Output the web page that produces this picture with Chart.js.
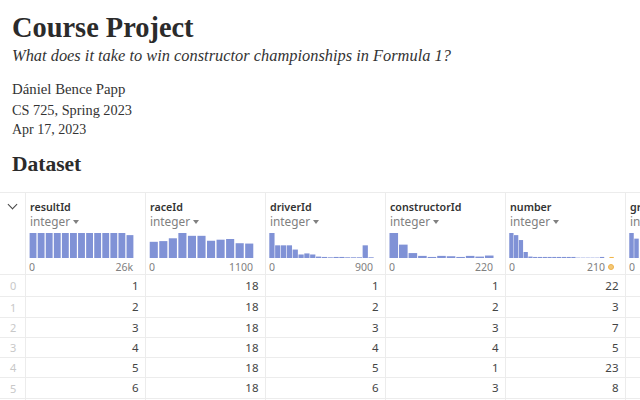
<!DOCTYPE html>
<html>
<head>
<meta charset="utf-8">
<title>Course Project</title>
<script src="https://cdn.jsdelivr.net/npm/chart.js@4"></script>
<style>
html, body { margin: 0; padding: 0; background: #fff; }
body { position: relative; width: 640px; height: 400px; overflow: hidden; color: #333; }
.t { position: absolute; white-space: nowrap; line-height: 1; }
.serif { font-family: "Liberation Serif", serif; }
.sans { font-family: "Noto Sans", sans-serif; }
.line { position: absolute; background: #ececec; }
.hist { position: absolute; top: 233px; height: 25px; }
.hist canvas { display: block; }
</style>
</head>
<body>
<script>
const columnNames = ["resultId", "raceId", "driverId", "constructorId", "number", "grid"]
const columnType = "integer"
const tickMax = ["26k", "1100", "900", "220", "210"]
const rowIndex = [0, 1, 2, 3, 4, 5]

const resultIdValues = [1, 2, 3, 4, 5, 6]
const raceIdValues = [18, 18, 18, 18, 18, 18]
const driverIdValues = [1, 2, 3, 4, 5, 6]
const constructorIdValues = [1, 2, 3, 4, 1, 3]
const numberValues = [22, 3, 7, 5, 23, 8]

// bar heights, relative to the tallest bar (71)
const resultIdBins = [71, 71, 71, 71, 71, 71, 71, 71, 71, 71, 71, 71, 65]
const raceIdBins = [46, 48, 56, 71, 63, 63, 49, 52, 54, 42, 41]
const driverIdBins = [71, 36, 36, 36, 24, 10, 13, 10, 4, 3, 2, 3, 3, 2, 2, 2, 36, 2]
const constructorIdBins = [71, 38, 14, 6, 3, 6, 5, 3, 6, 4, 7]
const numberBins = [71, 65, 51, 17, 4, 3, 3, 3, 3, 3, 3, 3, 3, 3, 1, 1, 1, 1, 1, 3, 0, 3]
const gridBins = [71, 55]

const allBins = [resultIdBins, raceIdBins, driverIdBins, constructorIdBins, numberBins, gridBins]
const allValues = [resultIdValues, raceIdValues, driverIdValues, constructorIdValues, numberValues]

const colX = [25, 145, 265, 385, 505, 625]
const rowY = [274, 296, 317, 337, 357, 377, 398]

function addText(text, x, y, size, cls, extra) {
    let d = document.createElement("div")
    d.className = "t " + cls
    d.textContent = text
    d.style.left = x + "px"
    d.style.top = (y - size / 2) + "px"
    d.style.fontSize = size + "px"
    if (extra) Object.assign(d.style, extra)
    document.body.appendChild(d)
    return d
}

function addRight(text, right, y, size, color) {
    let d = addText(text, 0, y, size, "sans", { color: color })
    d.style.left = "auto"
    d.style.right = (640 - right) + "px"
}

function addLine(x, y, w, h) {
    let d = document.createElement("div")
    d.className = "line"
    d.style.cssText = `left:${x}px;top:${y}px;width:${w}px;height:${h}px`
    document.body.appendChild(d)
}

// heading
addText("Course Project", 12, 28, 28.4, "serif", { fontWeight: "bold", color: "#2b2b2b" })
addText("What does it take to win constructor championships in Formula 1?", 12, 56, 16.4, "serif", { fontStyle: "italic" })
addText("Dániel Bence Papp", 12, 89, 14.8, "serif")
addText("CS 725, Spring 2023", 12, 110, 14.3, "serif")
addText("Apr 17, 2023", 12, 130, 14, "serif")
addText("Dataset", 12, 165, 21.5, "serif", { fontWeight: "bold", color: "#2b2b2b" })

// grid lines of the table
addLine(0, 192, 640, 1)
rowY.forEach(y => addLine(0, y, 640, 1))
colX.forEach(x => addLine(x, 192, 1, 208))

// collapse chevron
let chev = document.createElement("div")
chev.style.cssText = "position:absolute;left:9px;top:201px;width:6px;height:6px;border-right:1.5px solid #444;border-bottom:1.5px solid #444;transform:rotate(45deg)"
document.body.appendChild(chev)

// column headers and histograms
columnNames.forEach((name, c) => {
    let x = colX[c] + 5
    addText(name, x, 207, 10.7, "sans", { fontWeight: "600", color: "#333" })
    addText(columnType, x, 222, 11.8, "sans", { color: "#808080" })
    let caret = document.createElement("div")
    caret.style.cssText = `position:absolute;left:${x + 43}px;top:220px;border-left:3px solid transparent;border-right:3px solid transparent;border-top:4px solid #808080`
    document.body.appendChild(caret)
    addText("0", x - 1, 267, 10.5, "sans", { color: "#808080" })
    if (tickMax[c]) addRight(tickMax[c], colX[c] + (c == 4 ? 100 : 108), 267, 10.5, "#808080")

    let bins = allBins[c]
    let box = document.createElement("div")
    box.className = "hist"
    box.style.left = (x - 1) + "px"
    // number has one extra slot on the right for the missing-value bar
    let w = c == 5 ? 10 : 105
    box.style.width = w + "px"
    let cv = document.createElement("canvas")
    cv.width = w
    cv.height = 25
    box.appendChild(cv)
    document.body.appendChild(box)

    new Chart(cv, {
        type: "bar",
        data: {
            labels: bins.map((b, i) => i),
            datasets: [{
                data: bins,
                backgroundColor: (ctx) => (c == 4 && ctx.dataIndex == 21) ? "#f0b64a" : "#8092d6",
                barPercentage: 1,
                categoryPercentage: c == 0 || c == 1 ? 0.85 : 0.9
            }]
        },
        options: {
            responsive: false,
            animation: false,
            events: [],
            layout: { padding: 0 },
            plugins: { legend: { display: false }, tooltip: { enabled: false } },
            scales: {
                x: { display: false },
                y: { display: false, min: 0, max: 71 }
            }
        }
    })
})

// missing-value marker next to the number axis
let dot = document.createElement("div")
dot.style.cssText = "position:absolute;left:608px;top:264px;width:4px;height:4px;border:1px solid #eeb04a;border-radius:50%;background:#f3c878"
document.body.appendChild(dot)

// index column and body rows
rowIndex.forEach((r, i) => {
    let y = (rowY[i] + rowY[i + 1]) / 2 + 0.5
    addText(String(r), 10, y, 11, "sans", { color: "#c8c8c8" })
    allValues.forEach((vals, c) => {
        addRight(String(vals[i]), colX[c + 1] - 6.5, y, 11.5, "#444")
    })
})
</script>
</body>
</html>
